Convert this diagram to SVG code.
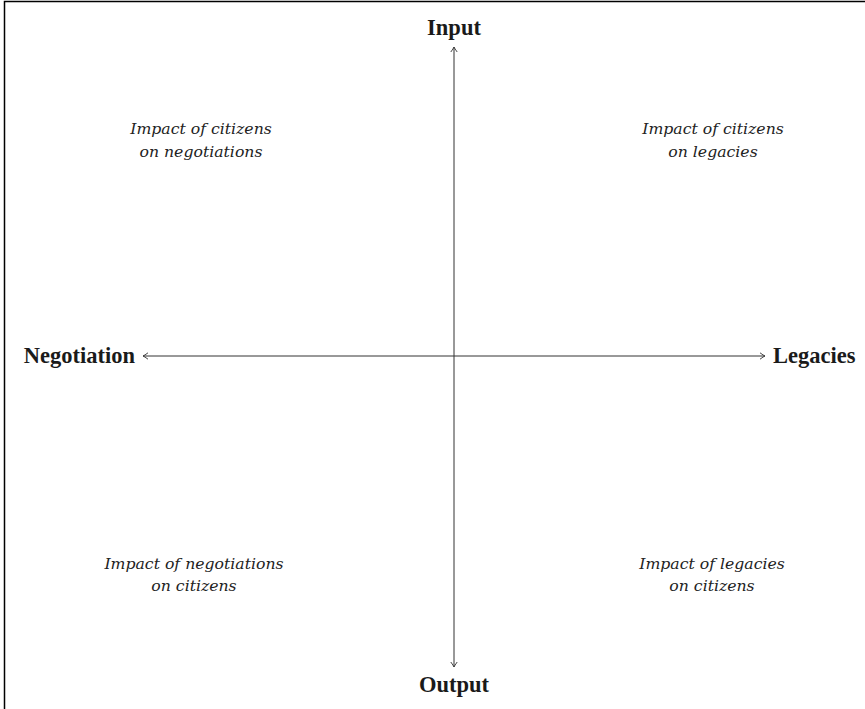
<svg xmlns="http://www.w3.org/2000/svg" width="865" height="709" viewBox="0 0 865 709">
<style>
.axis{stroke:#333;stroke-width:1;fill:none}
.lbl{font-family:"Liberation Serif",serif;font-weight:bold;font-size:22.5px;fill:#1a1a1a}
.q{font-family:"DejaVu Serif","Liberation Serif",serif;font-style:italic;font-size:15.7px;fill:#222;text-anchor:middle}
</style>
<defs>
<marker id="arr" viewBox="-6 -4 7 8" refX="0" refY="0" markerWidth="7" markerHeight="8" markerUnits="userSpaceOnUse" orient="auto">
<path d="M-5 -3.2 Q-1.5 -0.6 0 0 Q-1.5 0.6 -5 3.2" fill="none" stroke="#333" stroke-width="0.9"/>
</marker>
</defs>
<rect x="0" y="0" width="865" height="709" fill="#fff"/>
<path d="M4.5 709 V1.5 H865" fill="none" stroke="#000" stroke-width="1.5"/>
<g id="connectors">
<line class="axis" x1="454" y1="356" x2="454" y2="47" marker-end="url(#arr)"/>
<line class="axis" x1="454" y1="356" x2="454" y2="667" marker-end="url(#arr)"/>
<line class="axis" x1="454" y1="356" x2="143" y2="356" marker-end="url(#arr)"/>
<line class="axis" x1="454" y1="356" x2="765" y2="356" marker-end="url(#arr)"/>
</g>
<g id="input"><text class="lbl" x="454" y="35" text-anchor="middle">Input</text></g>
<g id="output"><text class="lbl" x="454" y="692" text-anchor="middle">Output</text></g>
<g id="negotiation"><text class="lbl" x="135" y="363" text-anchor="end">Negotiation</text></g>
<g id="legacies"><text class="lbl" x="773" y="363">Legacies</text></g>
<g id="q-top-left"><text class="q" x="201" y="134">Impact of citizens</text><text class="q" x="201" y="157">on negotiations</text></g>
<g id="q-top-right"><text class="q" x="713" y="134">Impact of citizens</text><text class="q" x="713" y="157">on legacies</text></g>
<g id="q-bottom-left"><text class="q" x="194" y="569">Impact of negotiations</text><text class="q" x="194" y="591">on citizens</text></g>
<g id="q-bottom-right"><text class="q" x="712" y="569">Impact of legacies</text><text class="q" x="712" y="591">on citizens</text></g>
</svg>
